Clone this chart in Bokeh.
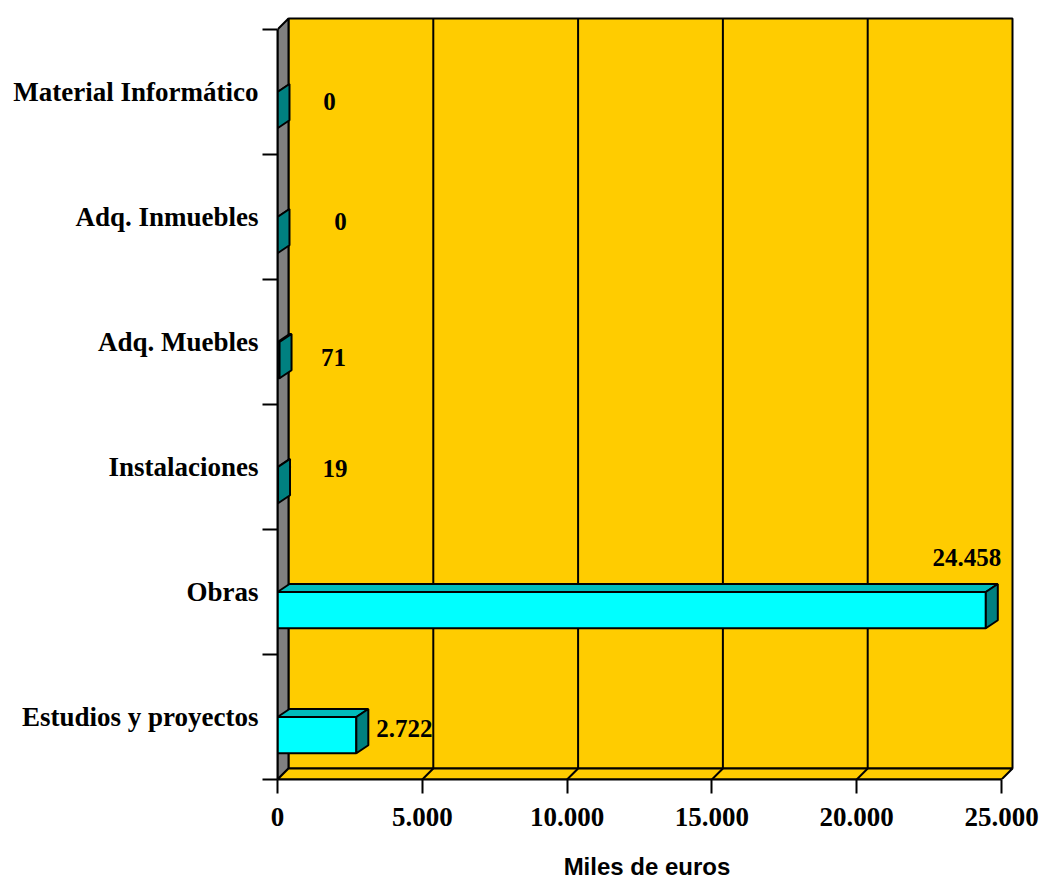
from bokeh.plotting import figure
from bokeh.models import FixedTicker, Range1d, ColumnDataSource
from bokeh.core.properties import value
from bokeh.embed import file_html
from bokeh.resources import INLINE

# ---- data (bottom to top) ----
categories = ["Estudios y proyectos", "Obras", "Instalaciones",
              "Adq. Muebles", "Adq. Inmuebles", "Material Informático"]
amounts = [2722, 24458, 19, 71, 0, 0]
x_ticks = [0, 5000, 10000, 15000, 20000, 25000]
x_title = "Miles de euros"

# ---- layout constants ----
PX_X = 725 / 25000.0      # pixels per data unit (x)
PX_Y = 125.0              # pixels per category (y)
DXW = 11 / PX_X           # wall depth
DYW = 11 / PX_Y
DXB = 12 / PX_X           # bar depth
DYB = 8 / PX_Y
BAR_LO, BAR_HI = 0.21, 0.50
NCAT = len(categories)
XMAX = x_ticks[-1]
x_end = XMAX + DXW + 4 / PX_X
y_end = NCAT + DYW + 4 / PX_Y

# label offsets in pixels (x right, y down) from (bar end, category centre)
label_off = [(48, 11), (-19, -35), (57, 1), (54, 15), (63, 4), (52, 9.5)]

WALL = "#FFCC00"
GRAY = "#808080"
CYAN = "#00FFFF"
TOP = "#00BCBC"
SIDE = "#008080"

p = figure(width=1039, height=882, x_range=Range1d(0, x_end), y_range=Range1d(0, y_end),
           output_backend="svg", toolbar_location=None,
           min_border_left=277, min_border_right=23, min_border_top=14, min_border_bottom=103)
p.outline_line_color = None
p.xgrid.visible = False
p.ygrid.visible = False
p.background_fill_color = "white"

# back wall
p.quad(left=DXW, right=XMAX + DXW, bottom=DYW, top=NCAT + DYW,
       fill_color=WALL, line_color="black", line_width=2)
# left wall
p.patch(x=[0, DXW, DXW, 0], y=[0, DYW, NCAT + DYW, NCAT],
        fill_color=GRAY, line_color="black", line_width=2)
# floor
p.patch(x=[0, XMAX, XMAX + DXW, DXW], y=[0, 0, DYW, DYW],
        fill_color=WALL, line_color="black", line_width=2)
# gridlines on wall and floor
inner = x_ticks[1:-1]
p.segment(x0=[t + DXW for t in inner], y0=[DYW] * len(inner),
          x1=[t + DXW for t in inner], y1=[NCAT + DYW] * len(inner),
          line_color="black", line_width=2)
p.segment(x0=inner, y0=[0] * len(inner), x1=[t + DXW for t in inner], y1=[DYW] * len(inner),
          line_color="black", line_width=2)

# bars
tx, ty, sx, sy = [], [], [], []
for k, v in enumerate(amounts):
    lo, hi = k + BAR_LO, k + BAR_HI
    tx.append([0, v, v + DXB, DXB]); ty.append([hi, hi, hi + DYB, hi + DYB])
    sx.append([v, v + DXB, v + DXB, v]); sy.append([lo, lo + DYB, hi + DYB, hi])
p.quad(left=[0] * NCAT, right=amounts, bottom=[k + BAR_LO for k in range(NCAT)],
       top=[k + BAR_HI for k in range(NCAT)], fill_color=CYAN, line_color="black", line_width=2)
p.patches(xs=tx, ys=ty, fill_color=TOP, line_color="black", line_width=2)
p.patches(xs=sx, ys=sy, fill_color=SIDE, line_color="black", line_width=2)

# value labels
def fmt(v):
    return f"{v:,}".replace(",", ".")

lx = [v + ox / PX_X for v, (ox, oy) in zip(amounts, label_off)]
ly = [k + 0.5 - oy / PX_Y for k, (ox, oy) in enumerate(label_off)]
src = ColumnDataSource(dict(x=lx, y=ly, t=[fmt(v) for v in amounts]))
p.text(x="x", y="y", text="t", source=src, text_align="center", text_baseline="middle",
       text_font=value("Liberation Serif"), text_font_style="bold",
       text_font_size="25px", text_color="black")

# y axis (categories)
ya = p.yaxis[0]
ya.ticker = FixedTicker(ticks=[k + 0.5 for k in range(NCAT)], minor_ticks=list(range(NCAT + 1)))
ya.major_label_overrides = {k + 0.5: c for k, c in enumerate(categories)}
ya.bounds = (0, NCAT)
ya.axis_line_width = 2
ya.major_tick_out = 0
ya.major_tick_in = 0
ya.minor_tick_out = 15
ya.minor_tick_in = 0
ya.minor_tick_line_width = 2
ya.minor_tick_line_color = "black"
ya.major_label_standoff = 4
ya.major_label_text_font = "Liberation Serif"
ya.major_label_text_font_style = "bold"
ya.major_label_text_font_size = "27px"
ya.major_label_text_color = "black"

# x axis
xa = p.xaxis[0]
xa.ticker = FixedTicker(ticks=x_ticks, minor_ticks=[])
xa.major_label_overrides = {t: fmt(t) for t in x_ticks}
xa.bounds = (0, XMAX)
xa.axis_line_width = 2
xa.major_tick_out = 14
xa.major_tick_in = 0
xa.major_tick_line_width = 2
xa.major_label_standoff = 14
xa.major_label_text_font = "Liberation Serif"
xa.major_label_text_font_style = "bold"
xa.major_label_text_font_size = "27px"
xa.major_label_text_color = "black"
xa.axis_label = x_title
xa.axis_label_standoff = 24
xa.axis_label_text_font = "Liberation Sans"
xa.axis_label_text_font_style = "bold"
xa.axis_label_text_font_size = "24px"
xa.axis_label_text_color = "black"

open("out.html", "w").write(file_html(p, INLINE))
